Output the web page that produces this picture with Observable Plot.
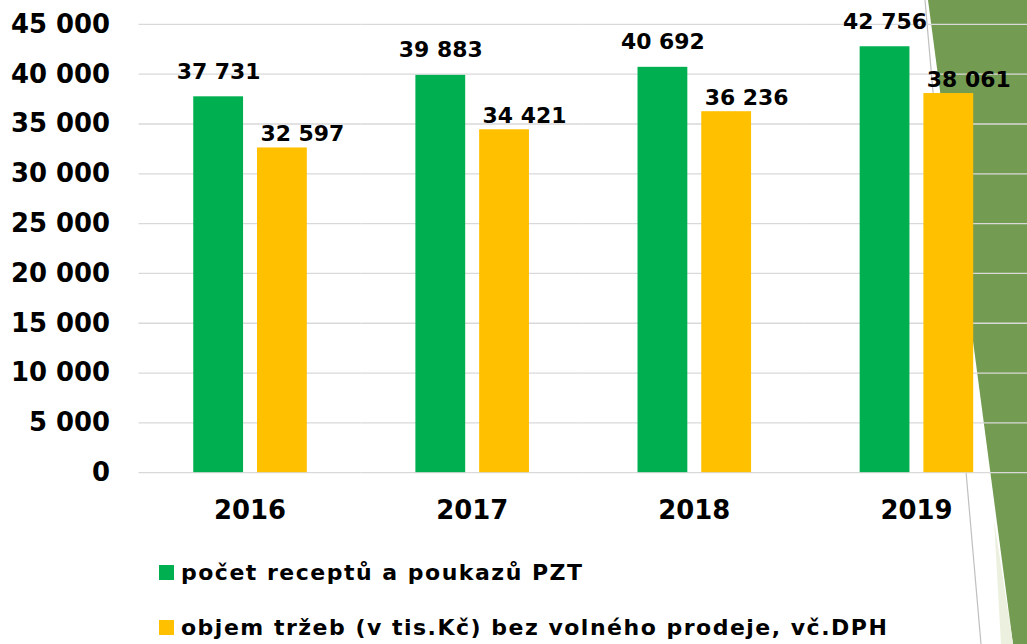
<!DOCTYPE html>
<html>
<head>
<meta charset="utf-8">
<script src="https://cdn.jsdelivr.net/npm/d3@7"></script>
<script src="https://cdn.jsdelivr.net/npm/@observablehq/plot@0.6"></script>
<style>
  html, body { margin: 0; padding: 0; background: #fff; overflow: hidden; width: 1027px; height: 644px; }
  #deco { position: absolute; left: 0; top: 0; width: 1027px; height: 644px; z-index: 0; }
  #chart { position: absolute; left: 0; top: 0; z-index: 1; }
  #legend { position: absolute; left: 0; top: 540px; z-index: 1; font-family: "DejaVu Sans", sans-serif; font-weight: bold; font-size: 22px; letter-spacing: 1.5px; color: #000; }
  .item { position: absolute; left: 159px; white-space: nowrap; display: flex; align-items: center; }
  .sw { width: 15px; height: 15px; margin-right: 7px; }
</style>
</head>
<body>
<svg id="deco" width="1027" height="644">
  <polygon points="928,0 1027,0 1027,644 1013,644" fill="#739C52"></polygon>
  <polygon points="994,520 1013,644 1001,644" fill="#EBF1DE"></polygon>
  <line x1="925" y1="0" x2="981" y2="644" stroke="#BFBFBF" stroke-width="1.2"></line>
</svg>
<div id="chart"></div>
<div id="legend"></div>
<script>
const years = ["2016", "2017", "2018", "2019"];
const seriesNames = ["počet receptů a poukazů PZT", "objem tržeb (v tis.Kč) bez volného prodeje, vč.DPH"];
const prescriptions = [37731, 39883, 40692, 42756];
const revenue = [32597, 34421, 36236, 38061];
const yTicks = [0, 5000, 10000, 15000, 20000, 25000, 30000, 35000, 40000, 45000];
const colors = ["#00B050", "#FFC000"];

const fmt = d3.formatLocale({decimal: ",", thousands: " ", grouping: [3], currency: ["", ""]}).format(",d");

const data = years.flatMap((y, i) => [
  {year: y, series: seriesNames[0], value: prescriptions[i]},
  {year: y, series: seriesNames[1], value: revenue[i]}
]);

const chart = Plot.plot({
  width: 1031,
  height: 540,
  marginLeft: 139,
  marginRight: 0,
  marginTop: 24,
  marginBottom: 66,
  style: {fontFamily: "DejaVu Sans, sans-serif", fontWeight: "bold", background: "transparent", color: "#000", overflow: "visible"},
  fx: {domain: years, padding: 0, label: null},
  x: {domain: seriesNames, paddingInner: 0.21875, paddingOuter: 0.84, axis: null},
  y: {domain: [0, 45000], label: null},
  color: {domain: seriesNames, range: colors},
  marks: [
    Plot.gridY(yTicks, {stroke: "#D9D9D9", strokeOpacity: 1, strokeWidth: 1.3}),
    Plot.barY(data, {fx: "year", x: "series", y: "value", fill: "series"}),
    Plot.text(data.filter(d => d.series === seriesNames[0]), {fx: "year", x: "series", y: "value", text: d => fmt(d.value), dy: -25, fontSize: 22, fill: "#000"}),
    Plot.text(data.filter(d => d.series === seriesNames[1]), {fx: "year", x: "series", y: "value", text: d => fmt(d.value), dy: -14, dx: 20, fontSize: 22, fill: "#000"}),
    Plot.axisY(yTicks, {tickFormat: fmt, tickSize: 0, tickPadding: 29, fontSize: 26, label: null}),
    Plot.axisFx({anchor: "bottom", tickSize: 0, tickPadding: 28, fontSize: 26, label: null})
  ]
});
document.getElementById("chart").appendChild(chart);

const legend = document.getElementById("legend");
const tops = [34, 89];
seriesNames.forEach((name, i) => {
  const item = document.createElement("div");
  item.className = "item";
  item.style.top = (tops[i] - 14) + "px";
  const sw = document.createElement("span");
  sw.className = "sw";
  sw.style.background = colors[i];
  const tx = document.createElement("span");
  tx.textContent = name;
  item.appendChild(sw);
  item.appendChild(tx);
  legend.appendChild(item);
});
</script>
</body>
</html>
